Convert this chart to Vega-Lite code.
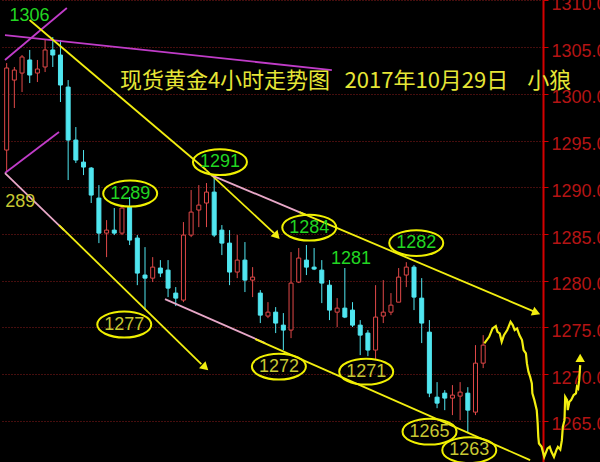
{
  "$schema": "https://vega.github.io/schema/vega-lite/v6.json",
  "width": 543,
  "height": 462,
  "autosize": {"type": "none"},
  "padding": {"left": 0, "top": 0, "right": 57, "bottom": 0},
  "background": "#000000",
  "config": {"view": {"stroke": null}},
  "resolve": {"scale": {"color": "independent"}, "axis": {"x": "independent", "y": "independent"}},
  "datasets": {
    "candles": [
      {"k":0,"o":1293.99,"h":1303.30,"l":1291.63,"c":1302.77},
      {"k":1,"o":1301.48,"h":1302.88,"l":1298.49,"c":1302.55},
      {"k":2,"o":1302.23,"h":1304.16,"l":1300.20,"c":1303.95},
      {"k":3,"o":1303.63,"h":1304.70,"l":1301.16,"c":1302.02},
      {"k":4,"o":1302.23,"h":1303.63,"l":1301.27,"c":1302.66},
      {"k":5,"o":1302.88,"h":1305.77,"l":1302.34,"c":1304.70},
      {"k":6,"o":1304.70,"h":1306.09,"l":1302.88,"c":1304.16},
      {"k":7,"o":1304.16,"h":1305.77,"l":1299.13,"c":1300.95},
      {"k":8,"o":1300.73,"h":1301.48,"l":1290.78,"c":1295.06},
      {"k":9,"o":1295.06,"h":1296.45,"l":1292.60,"c":1292.92},
      {"k":10,"o":1292.70,"h":1293.99,"l":1291.31,"c":1292.17},
      {"k":11,"o":1292.06,"h":1292.17,"l":1288.32,"c":1289.17},
      {"k":12,"o":1288.85,"h":1290.24,"l":1284.03,"c":1285.10},
      {"k":13,"o":1285.10,"h":1286.49,"l":1282.53,"c":1285.42},
      {"k":14,"o":1285.42,"h":1287.78,"l":1284.89,"c":1285.10},
      {"k":15,"o":1285.10,"h":1288.10,"l":1284.89,"c":1287.78},
      {"k":16,"o":1287.89,"h":1288.96,"l":1283.82,"c":1284.35},
      {"k":17,"o":1284.57,"h":1284.89,"l":1279.53,"c":1280.82},
      {"k":18,"o":1280.61,"h":1283.60,"l":1276.86,"c":1280.28},
      {"k":19,"o":1280.28,"h":1282.53,"l":1279.86,"c":1281.46},
      {"k":20,"o":1281.36,"h":1282.21,"l":1280.39,"c":1280.82},
      {"k":21,"o":1281.14,"h":1282.21,"l":1278.25,"c":1279.21},
      {"k":22,"o":1278.68,"h":1279.32,"l":1277.29,"c":1278.14},
      {"k":23,"o":1277.93,"h":1286.28,"l":1277.71,"c":1284.89},
      {"k":24,"o":1284.89,"h":1289.71,"l":1284.67,"c":1287.35},
      {"k":25,"o":1287.57,"h":1290.24,"l":1285.74,"c":1288.10},
      {"k":26,"o":1288.32,"h":1290.46,"l":1285.74,"c":1289.49},
      {"k":27,"o":1289.49,"h":1291.21,"l":1284.67,"c":1284.89},
      {"k":28,"o":1285.42,"h":1285.96,"l":1282.75,"c":1284.03},
      {"k":29,"o":1284.03,"h":1285.42,"l":1279.53,"c":1280.93},
      {"k":30,"o":1280.93,"h":1284.89,"l":1280.28,"c":1282.21},
      {"k":31,"o":1282.21,"h":1284.14,"l":1278.79,"c":1280.07},
      {"k":32,"o":1280.07,"h":1281.46,"l":1278.25,"c":1280.39},
      {"k":33,"o":1278.68,"h":1279.00,"l":1275.47,"c":1276.32},
      {"k":34,"o":1276.22,"h":1277.71,"l":1276.00,"c":1276.64},
      {"k":35,"o":1276.64,"h":1277.18,"l":1274.40,"c":1275.47},
      {"k":36,"o":1275.25,"h":1276.54,"l":1272.58,"c":1274.72},
      {"k":37,"o":1274.72,"h":1283.07,"l":1273.86,"c":1279.75},
      {"k":38,"o":1279.86,"h":1283.50,"l":1279.75,"c":1282.43},
      {"k":39,"o":1282.21,"h":1283.82,"l":1280.61,"c":1281.46},
      {"k":40,"o":1281.46,"h":1283.50,"l":1281.14,"c":1281.25},
      {"k":41,"o":1281.14,"h":1282.21,"l":1277.61,"c":1279.75},
      {"k":42,"o":1279.53,"h":1280.07,"l":1275.79,"c":1276.86},
      {"k":43,"o":1276.64,"h":1278.14,"l":1275.04,"c":1277.07},
      {"k":44,"o":1277.07,"h":1281.36,"l":1276.00,"c":1276.11},
      {"k":45,"o":1276.86,"h":1277.71,"l":1275.04,"c":1275.25},
      {"k":46,"o":1275.25,"h":1275.79,"l":1272.04,"c":1274.18},
      {"k":47,"o":1274.40,"h":1274.72,"l":1271.93,"c":1272.58},
      {"k":48,"o":1272.58,"h":1279.53,"l":1271.50,"c":1276.11},
      {"k":49,"o":1276.22,"h":1280.07,"l":1275.47,"c":1276.64},
      {"k":50,"o":1276.64,"h":1278.68,"l":1276.32,"c":1277.39},
      {"k":51,"o":1277.71,"h":1281.36,"l":1277.71,"c":1280.39},
      {"k":52,"o":1280.61,"h":1281.99,"l":1279.32,"c":1281.46},
      {"k":53,"o":1281.46,"h":1281.68,"l":1276.86,"c":1278.25},
      {"k":54,"o":1278.14,"h":1280.28,"l":1273.33,"c":1275.47},
      {"k":55,"o":1274.50,"h":1275.79,"l":1267.54,"c":1267.97},
      {"k":56,"o":1267.54,"h":1269.15,"l":1266.36,"c":1266.90},
      {"k":57,"o":1267.97,"h":1268.29,"l":1266.15,"c":1267.44},
      {"k":58,"o":1267.44,"h":1268.83,"l":1265.62,"c":1267.76},
      {"k":59,"o":1267.65,"h":1269.15,"l":1265.08,"c":1268.08},
      {"k":60,"o":1267.97,"h":1268.61,"l":1263.80,"c":1266.15},
      {"k":61,"o":1265.94,"h":1273.11,"l":1265.62,"c":1271.18},
      {"k":62,"o":1271.18,"h":1274.18,"l":1270.65,"c":1273.11}
    ],
    "lines": [
      {"seg":"m1","kind":"magenta","k":-0.22,"p":1306.30},
      {"seg":"m1","kind":"magenta","k":42.31,"p":1302.55},
      {"seg":"m2","kind":"magenta","k":-0.22,"p":1303.63},
      {"seg":"m2","kind":"magenta","k":7.83,"p":1309.19},
      {"seg":"m3","kind":"magenta","k":-0.22,"p":1291.53},
      {"seg":"m3","kind":"magenta","k":6.81,"p":1295.92},
      {"seg":"p1","kind":"pink","k":-0.22,"p":1291.53},
      {"seg":"p1","kind":"pink","k":7.45,"p":1285.42},
      {"seg":"y1","kind":"yellow","k":6.81,"p":1285.96},
      {"seg":"y1","kind":"yellow","k":25.33,"p":1271.08},
      {"seg":"y2","kind":"yellow","k":2.98,"p":1307.91},
      {"seg":"y2","kind":"yellow","k":25.96,"p":1291.85},
      {"seg":"y3","kind":"yellow","k":25.96,"p":1291.85},
      {"seg":"y3","kind":"yellow","k":34.78,"p":1285.10},
      {"seg":"p2","kind":"pink","k":26.6,"p":1291.31},
      {"seg":"p2","kind":"pink","k":39.0,"p":1287.03},
      {"seg":"y4","kind":"yellow","k":38.1,"p":1287.35},
      {"seg":"y4","kind":"yellow","k":68.5,"p":1276.75},
      {"seg":"p3","kind":"pink","k":20.6,"p":1278.04},
      {"seg":"p3","kind":"pink","k":33.63,"p":1273.33},
      {"seg":"y5","kind":"yellow","k":32.35,"p":1273.75},
      {"seg":"y5","kind":"yellow","k":68.11,"p":1260.80}
    ],
    "arrows": [
      {"k":25.71,"p":1270.81,"dir":133},
      {"k":35.03,"p":1284.89,"dir":137},
      {"k":68.75,"p":1276.64,"dir":112},
      {"k":74.62,"p":1271.61,"dir":0}
    ],
    "forecast": [
      {"k":62.15,"p":1273.29},{"k":62.78,"p":1274.00},{"k":63.22,"p":1274.90},{"k":63.64,"p":1275.15},
      {"k":63.86,"p":1274.54},{"k":64.15,"p":1274.36},{"k":64.41,"p":1273.47},{"k":64.70,"p":1274.18},
      {"k":65.13,"p":1274.72},{"k":65.56,"p":1275.61},{"k":65.85,"p":1275.25},{"k":66.10,"p":1274.72},
      {"k":66.41,"p":1274.90},{"k":66.71,"p":1274.18},{"k":67.05,"p":1273.65},{"k":67.26,"p":1272.58},
      {"k":67.56,"p":1272.22},{"k":67.69,"p":1271.15},{"k":67.89,"p":1270.25},{"k":68.11,"p":1269.72},
      {"k":68.33,"p":1269.01},{"k":68.40,"p":1267.94},{"k":68.66,"p":1267.22},{"k":68.97,"p":1266.15},
      {"k":69.09,"p":1264.73},{"k":69.17,"p":1263.29},{"k":69.26,"p":1262.58},{"k":69.60,"p":1262.22},
      {"k":69.94,"p":1261.15},{"k":70.37,"p":1262.05},{"k":70.66,"p":1262.22},{"k":70.88,"p":1261.69},
      {"k":71.21,"p":1261.15},{"k":71.52,"p":1261.87},{"k":71.72,"p":1262.22},{"k":72.03,"p":1261.94},
      {"k":72.24,"p":1262.94},{"k":72.36,"p":1264.36},{"k":72.58,"p":1265.08},{"k":72.67,"p":1267.57},
      {"k":72.92,"p":1267.22},{"k":73.00,"p":1266.15},{"k":73.22,"p":1267.04},{"k":73.44,"p":1267.22},
      {"k":73.77,"p":1267.76},{"k":74.07,"p":1267.94},{"k":74.20,"p":1268.65},{"k":74.36,"p":1268.47},
      {"k":74.49,"p":1269.36},{"k":74.62,"p":1270.97}
    ],
    "labels": [
      {"text":"1306","kind":"hi","ell":false,"k":2.98,"p":1308.34},
      {"text":"1289","kind":"hi","ell":true,"k":16.07,"p":1289.33},
      {"text":"1291","kind":"hi","ell":true,"k":27.75,"p":1292.70},
      {"text":"1284","kind":"hi","ell":true,"k":39.37,"p":1285.69},
      {"text":"1282","kind":"hi","ell":true,"k":53.29,"p":1284.03},
      {"text":"1281","kind":"hi","ell":false,"k":44.80,"p":1282.37},
      {"text":"1277","kind":"lo","ell":true,"k":15.30,"p":1275.31},
      {"text":"1272","kind":"lo","ell":true,"k":35.42,"p":1270.81},
      {"text":"1271","kind":"lo","ell":true,"k":46.78,"p":1270.27},
      {"text":"1265","kind":"lo","ell":true,"k":55.02,"p":1263.85},
      {"text":"1263","kind":"lo","ell":true,"k":60.19,"p":1261.87}
    ],
    "edgeLabels": [
      {"text":"289","k":-0.2,"p":1288.42}
    ],
    "titles": [
      {"text":"现货黄金4小时走势图","k":14.73,"p":1301.38},
      {"text":"2017年10月29日","k":43.97,"p":1301.38},
      {"text":"小狼","k":67.73,"p":1301.38}
    ]
  },
  "layer": [
    {
      "data": {"name": "candles"},
      "mark": {"type": "rule", "strokeWidth": 1},
      "encoding": {
        "x": {"field": "k", "type": "quantitative", "scale": {"domain": [-0.217, 69.132], "nice": false, "zero": false}, "axis": null},
        "y": {"field": "l", "type": "quantitative", "scale": {"domain": [1260.6, 1310.05], "nice": false, "zero": false},
          "axis": {"orient": "right", "title": null, "values": [1265,1270,1275,1280,1285,1290,1295,1300,1305,1310], "format": ".1f",
            "grid": true, "gridColor": "#8c1c1c", "gridDash": [1,2], "gridWidth": 1,
            "domainColor": "#d40000", "domainWidth": 2, "tickColor": "#d40000", "tickSize": 5, "tickWidth": 1,
            "labelColor": "#b41414", "labelFontSize": 18, "labelFont": "Liberation Sans", "labelPadding": 3,
            "labelBaseline": "middle", "labelOffset": 4, "labelFlush": false, "labelOverlap": false, "labelBound": false}},
        "y2": {"field": "h"},
        "color": {"condition": {"test": "datum.c >= datum.o", "value": "#e04848"}, "value": "#50e6f0"}
      }
    },
    {
      "data": {"name": "candles"},
      "mark": {"type": "bar", "orient": "vertical", "width": 4, "strokeWidth": 1},
      "encoding": {
        "x": {"field": "k", "type": "quantitative", "scale": {"domain": [-0.217, 69.132], "nice": false, "zero": false}, "axis": null},
        "y": {"field": "o", "type": "quantitative", "scale": {"domain": [1260.6, 1310.05], "nice": false, "zero": false}, "axis": null},
        "y2": {"field": "c"},
        "fill": {"condition": {"test": "datum.c >= datum.o", "value": "#000000"}, "value": "#50e6f0"},
        "stroke": {"condition": {"test": "datum.c >= datum.o", "value": "#e04848"}, "value": "#50e6f0"}
      }
    },
    {
      "data": {"name": "lines"},
      "mark": {"type": "line", "strokeWidth": 1.8, "clip": false},
      "encoding": {
        "x": {"field": "k", "type": "quantitative", "scale": {"domain": [-0.217, 69.132], "nice": false, "zero": false}, "axis": null},
        "y": {"field": "p", "type": "quantitative", "scale": {"domain": [1260.6, 1310.05], "nice": false, "zero": false}, "axis": null},
        "detail": {"field": "seg"},
        "stroke": {"field": "kind", "type": "nominal", "scale": {"domain": ["magenta", "pink", "yellow"], "range": ["#c03cc8", "#e8a8c8", "#f2ee10"]}, "legend": null}
      }
    },
    {
      "data": {"name": "forecast"},
      "mark": {"type": "line", "strokeWidth": 2.2, "color": "#f2ee10", "clip": false},
      "encoding": {
        "x": {"field": "k", "type": "quantitative", "scale": {"domain": [-0.217, 69.132], "nice": false, "zero": false}, "axis": null},
        "y": {"field": "p", "type": "quantitative", "scale": {"domain": [1260.6, 1310.05], "nice": false, "zero": false}, "axis": null}
      }
    },
    {
      "data": {"name": "arrows"},
      "mark": {"type": "point", "shape": "triangle", "filled": true, "size": 90, "color": "#f2ee10", "opacity": 1, "clip": false},
      "encoding": {
        "x": {"field": "k", "type": "quantitative", "scale": {"domain": [-0.217, 69.132], "nice": false, "zero": false}, "axis": null},
        "y": {"field": "p", "type": "quantitative", "scale": {"domain": [1260.6, 1310.05], "nice": false, "zero": false}, "axis": null},
        "angle": {"field": "dir", "type": "quantitative", "scale": null}
      }
    },
    {
      "data": {"name": "labels"},
      "transform": [{"filter": "datum.ell"}],
      "mark": {"type": "point", "shape": "M-1,0C-1,-0.265,-0.552,-0.48,0,-0.48C0.552,-0.48,1,-0.265,1,0C1,0.265,0.552,0.48,0,0.48C-0.552,0.48,-1,0.265,-1,0Z", "size": 2916, "filled": false, "stroke": "#f0f000", "strokeWidth": 2, "opacity": 1, "clip": false},
      "encoding": {
        "x": {"field": "k", "type": "quantitative", "scale": {"domain": [-0.217, 69.132], "nice": false, "zero": false}, "axis": null},
        "y": {"field": "p", "type": "quantitative", "scale": {"domain": [1260.6, 1310.05], "nice": false, "zero": false}, "axis": null}
      }
    },
    {
      "data": {"name": "labels"},
      "mark": {"type": "text", "font": "Liberation Sans", "fontSize": 18, "align": "center", "baseline": "middle", "clip": false},
      "encoding": {
        "x": {"field": "k", "type": "quantitative", "scale": {"domain": [-0.217, 69.132], "nice": false, "zero": false}, "axis": null},
        "y": {"field": "p", "type": "quantitative", "scale": {"domain": [1260.6, 1310.05], "nice": false, "zero": false}, "axis": null},
        "text": {"field": "text"},
        "fill": {"field": "kind", "type": "nominal", "scale": {"domain": ["hi", "lo"], "range": ["#22d622", "#c8c832"]}, "legend": null}
      }
    },
    {
      "data": {"name": "edgeLabels"},
      "mark": {"type": "text", "font": "Liberation Sans", "fontSize": 18, "align": "left", "baseline": "middle", "color": "#c8c832", "clip": false},
      "encoding": {
        "x": {"field": "k", "type": "quantitative", "scale": {"domain": [-0.217, 69.132], "nice": false, "zero": false}, "axis": null},
        "y": {"field": "p", "type": "quantitative", "scale": {"domain": [1260.6, 1310.05], "nice": false, "zero": false}, "axis": null},
        "text": {"field": "text"}
      }
    },
    {
      "data": {"name": "titles"},
      "mark": {"type": "text", "font": "Noto Sans CJK SC", "fontSize": 22, "align": "left", "baseline": "middle", "color": "#e6e636", "clip": false},
      "encoding": {
        "x": {"field": "k", "type": "quantitative", "scale": {"domain": [-0.217, 69.132], "nice": false, "zero": false}, "axis": null},
        "y": {"field": "p", "type": "quantitative", "scale": {"domain": [1260.6, 1310.05], "nice": false, "zero": false}, "axis": null},
        "text": {"field": "text"}
      }
    }
  ]
}
